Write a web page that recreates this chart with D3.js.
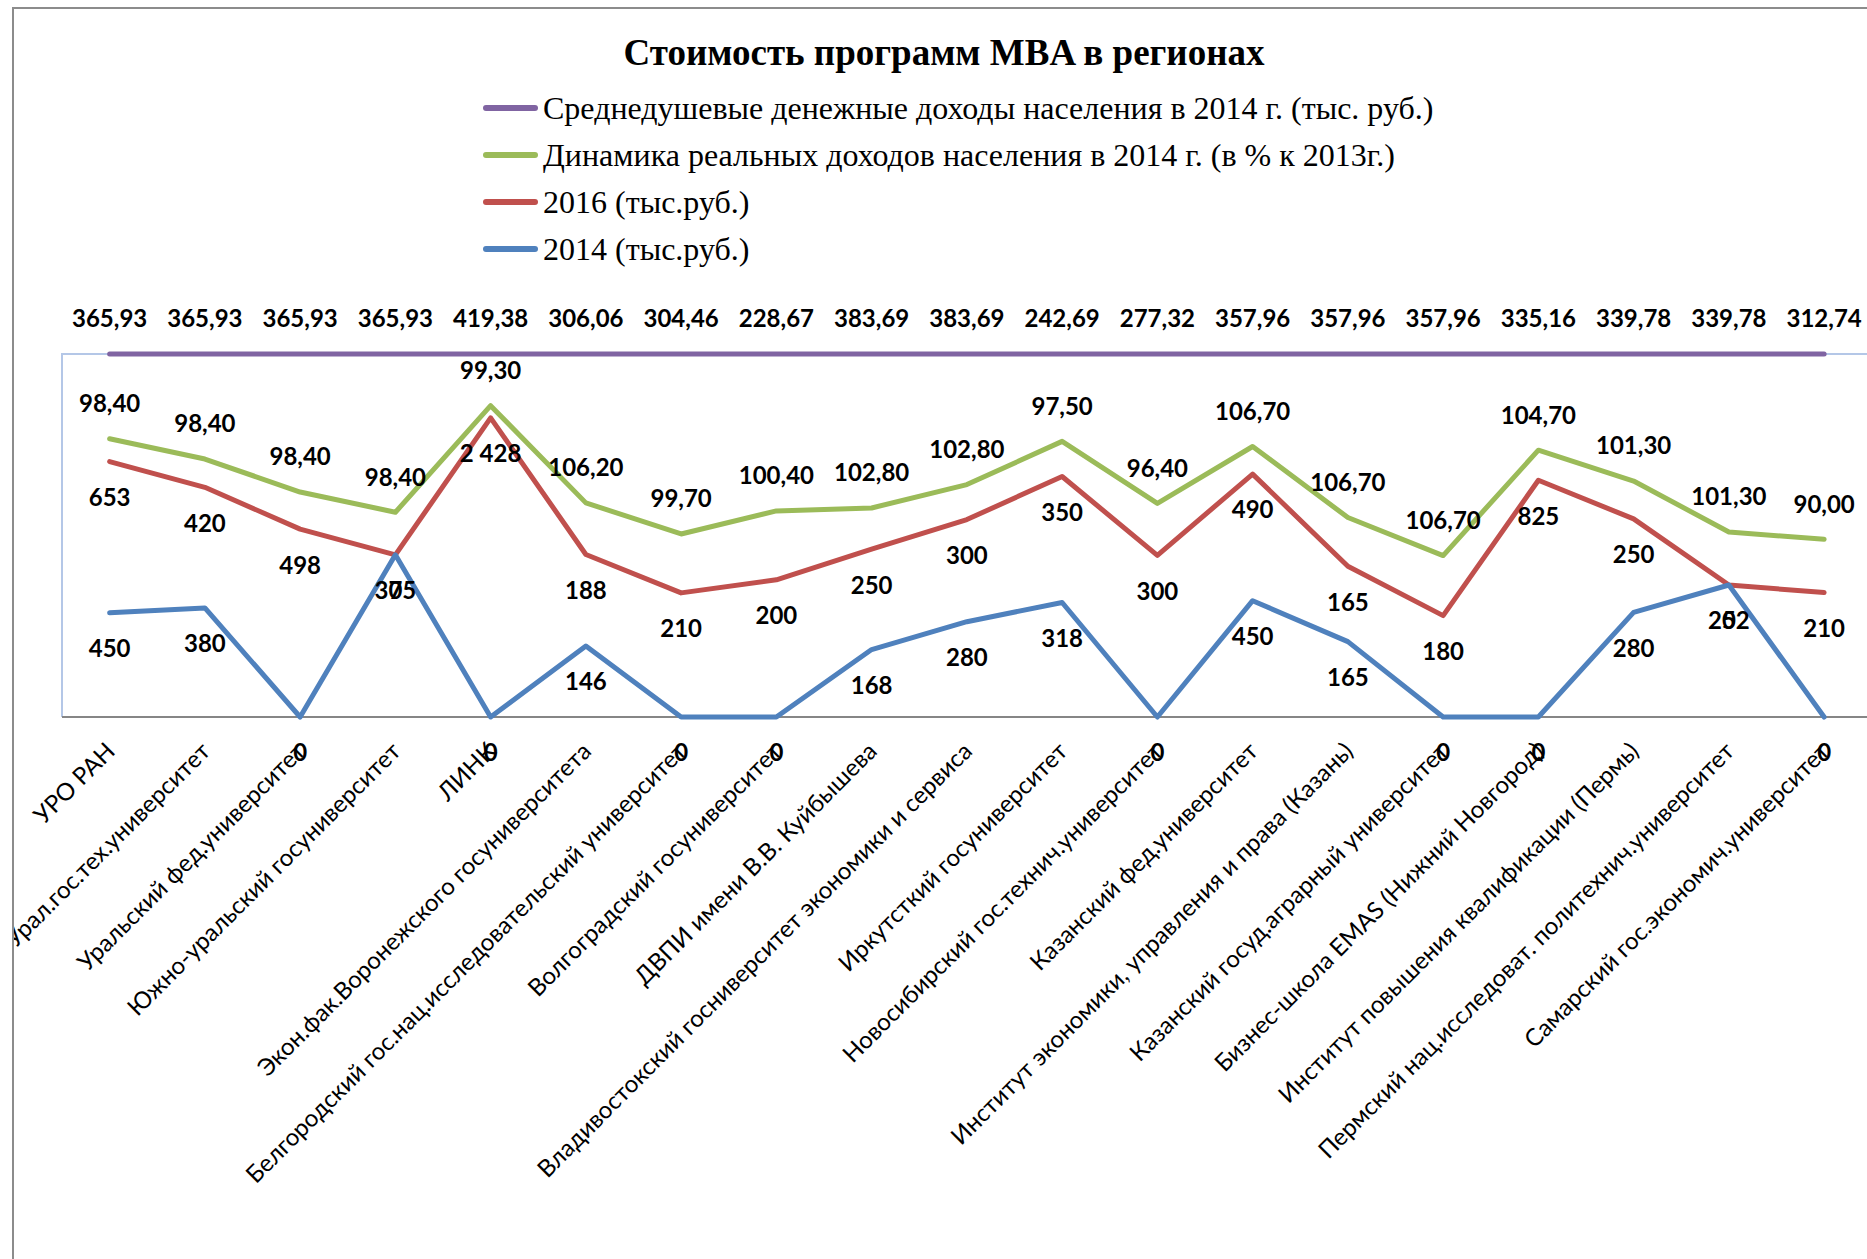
<!DOCTYPE html>
<html>
<head>
<meta charset="utf-8">
<script src="https://cdn.jsdelivr.net/npm/d3@7"></script>
<style>
  body { margin: 0; background: #fff; }
  svg { display: block; }
</style>
</head>
<body>
<script>
// категории (вузы)
var categories = [
  "УРО РАН",
  "Урал.гос.тех.университет",
  "Уральский фед.университет",
  "Южно-уральский госуниверситет",
  "ЛИНК",
  "Экон.фак.Воронежского госуниверситета",
  "Белгородский гос.нац.исследовательский университет",
  "Волгоградский госуниверситет",
  "ДВПИ имени В.В. Куйбышева",
  "Владивостокский госниверситет экономики и сервиса",
  "Иркутсткий госуниверситет",
  "Новосибирский гос.технич.университет",
  "Казанский фед.университет",
  "Институт экономики, управления и права (Казань)",
  "Казанский госуд.аграрный университет",
  "Бизнес-школа EMAS (Нижний Новгород)",
  "Институт повышения квалификации (Пермь)",
  "Пермский нац.исследоват. политехнич.университет",
  "Самарский гос.экономич.университет"
];

// Среднедушевые денежные доходы населения в 2014 г. (тыс. руб.)
var income2014 = [365.93, 365.93, 365.93, 365.93, 419.38, 306.06, 304.46, 228.67, 383.69, 383.69,
                  242.69, 277.32, 357.96, 357.96, 357.96, 335.16, 339.78, 339.78, 312.74];
// Динамика реальных доходов населения в 2014 г. (в % к 2013г.)
var dynamics = [98.40, 98.40, 98.40, 98.40, 99.30, 106.20, 99.70, 100.40, 102.80, 102.80,
                97.50, 96.40, 106.70, 106.70, 106.70, 104.70, 101.30, 101.30, 90.00];
// 2016 (тыс.руб.)
var cost2016 = [653, 420, 498, 0, 2428, 188, 210, 200, 250, 300,
                350, 300, 490, 165, 180, 825, 250, 0, 210];
// 2014 (тыс.руб.)
var cost2014 = [450, 380, 0, 375, 0, 146, 0, 0, 168, 280,
                318, 0, 450, 165, 0, 0, 280, 252, 0];

var legendNames = [
  "Среднедушевые денежные доходы населения в 2014 г. (тыс. руб.)",
  "Динамика реальных доходов населения в 2014 г. (в % к 2013г.)",
  "2016 (тыс.руб.)",
  "2014 (тыс.руб.)"
];

var width = 1867, height = 1259;

var ru = d3.formatLocale({decimal: ",", thousands: "\u00a0", grouping: [3], currency: ["", ""]});
var fmt2 = ru.format(",.2f"), fmt0 = ru.format(",d");

// серии снизу вверх (100% накопление)
var series = [
  {key: "b", name: legendNames[3], values: cost2014, color: "#4F81BD", fmt: fmt0, pos: "below"},
  {key: "r", name: legendNames[2], values: cost2016, color: "#C0504D", fmt: fmt0, pos: "below"},
  {key: "g", name: legendNames[1], values: dynamics, color: "#9BBB59", fmt: fmt2, pos: "above"},
  {key: "p", name: legendNames[0], values: income2014, color: "#8064A2", fmt: fmt2, pos: "above"}
];

var rows = categories.map(function(c, i) {
  var o = {cat: c};
  series.forEach(function(s) { o[s.key] = s.values[i]; });
  return o;
});

var stack = d3.stack()
  .keys(series.map(function(s) { return s.key; }))
  .offset(d3.stackOffsetExpand);
var stacked = stack(rows);

var plotL = 62, plotT = 354, plotB = 717;
var step = 95.25;
var x = d3.scalePoint()
  .domain(categories)
  .range([plotL + step / 2, plotL + step / 2 + step * (categories.length - 1)]);
var y = d3.scaleLinear().domain([0, 1]).range([plotB, plotT]);

var svg = d3.select("body").append("svg")
  .attr("width", width)
  .attr("height", height);

// обрезка по рамке диаграммы
svg.append("defs").append("clipPath")
  .attr("id", "chartClip")
  .append("rect")
    .attr("x", 14).attr("y", 9)
    .attr("width", width).attr("height", height);

// рамка диаграммы
svg.append("path")
  .attr("d", "M13," + height + "V8H" + width)
  .attr("fill", "none")
  .attr("stroke", "#8c8c8c")
  .attr("stroke-width", 2);

// заголовок
svg.append("text")
  .attr("x", 944)
  .attr("y", 52)
  .attr("dy", "0.35em")
  .attr("text-anchor", "middle")
  .attr("font-family", "Liberation Serif")
  .attr("font-weight", "bold")
  .attr("font-size", 37)
  .text("Стоимость программ MBA в регионах");

// легенда
var legend = svg.append("g").attr("class", "legend");
var legItems = series.slice().reverse();
legItems.forEach(function(s, i) {
  var ly = 108 + i * 47;
  legend.append("line")
    .attr("x1", 486).attr("x2", 535)
    .attr("y1", ly).attr("y2", ly)
    .attr("stroke", s.color)
    .attr("stroke-width", 6)
    .attr("stroke-linecap", "round");
  legend.append("text")
    .attr("x", 543)
    .attr("y", ly)
    .attr("dy", "0.35em")
    .attr("font-family", "Liberation Serif")
    .attr("font-size", 32)
    .text(s.name);
});

// область построения
svg.append("path")
  .attr("d", "M" + plotL + "," + plotB + "V" + plotT + "H" + width)
  .attr("fill", "none")
  .attr("stroke", "#B4C7E7")
  .attr("stroke-width", 2);

var xAxis = svg.append("g")
  .attr("transform", "translate(0," + plotB + ")")
  .call(d3.axisBottom(x).tickSize(0).tickFormat(""));
xAxis.select(".domain")
  .attr("d", "M" + plotL + ",0H" + width)
  .attr("stroke", "#868686")
  .attr("stroke-width", 2);

// подписи категорий
svg.append("g")
  .attr("clip-path", "url(#chartClip)")
  .selectAll("text")
  .data(categories)
  .enter().append("text")
    .attr("transform", function(d) { return "translate(" + (x(d) - 6) + ",740) rotate(-45)"; })
    .attr("dy", "0.75em")
    .attr("text-anchor", "end")
    .attr("font-family", "Lato")
    .attr("font-size", 24)
    .attr("fill", "#000")
    .text(function(d) { return d; });

// линии
var line = d3.line()
  .x(function(d) { return x(d.data.cat); })
  .y(function(d) { return y(d[1]); });

var drawOrder = [3, 2, 1, 0];
drawOrder.forEach(function(k) {
  svg.append("path")
    .datum(stacked[k])
    .attr("d", line)
    .attr("fill", "none")
    .attr("stroke", series[k].color)
    .attr("stroke-width", 5)
    .attr("stroke-linejoin", "round")
    .attr("stroke-linecap", "round");
});

// подписи данных
var labels = svg.append("g")
  .attr("font-family", "Lato")
  .attr("font-weight", "bold")
  .attr("font-size", 24)
  .attr("text-anchor", "middle");
stacked.forEach(function(layer, k) {
  var s = series[k];
  labels.selectAll(null)
    .data(layer)
    .enter().append("text")
      .attr("x", function(d) { return x(d.data.cat); })
      .attr("y", function(d) { return y(d[1]) + (s.pos == "above" ? -35 : 36); })
      .attr("dy", "0.35em")
      .text(function(d) { return s.fmt(d.data[s.key]); });
});
</script>
</body>
</html>
